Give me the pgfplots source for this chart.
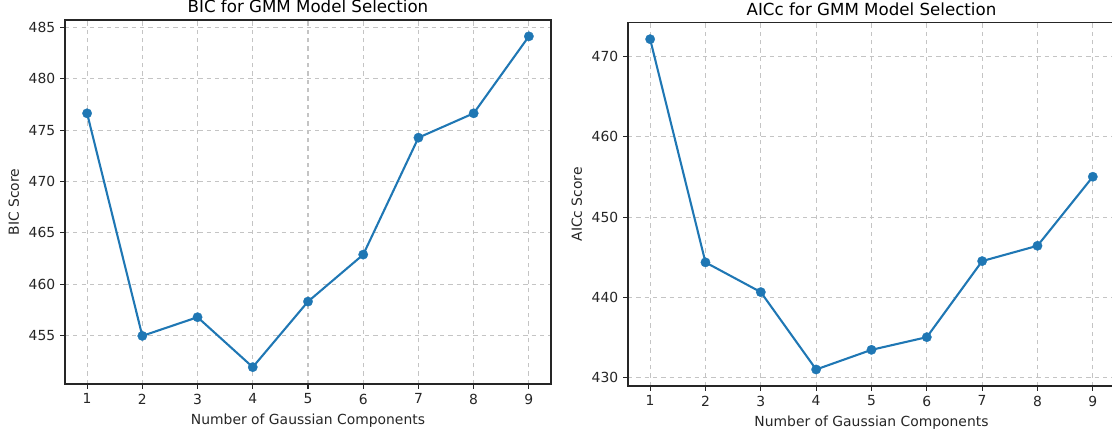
\documentclass[border=0pt]{standalone}
\usepackage{fontspec}
\setmainfont{DejaVu Sans}
\usepackage{pgfplots}
\pgfplotsset{compat=1.18}

\definecolor{mplblue}{HTML}{1F77B4}
\definecolor{gridgray}{HTML}{C4C4C4}
\definecolor{spine}{HTML}{262626}

\pgfplotsset{
  gmmaxis/.style={
    scale only axis,
    xmin=0.6, xmax=9.4,
    xtick={1,2,3,4,5,6,7,8,9},
    tick align=outside,
    major tick length=3.5pt,
    tick style={spine, line width=0.8pt},
    axis line style={spine, line width=0.8pt},
    xtick pos=bottom, ytick pos=left,
    grid=major,
    major grid style={gridgray, dashed, line width=0.8pt},
    /pgf/number format/assume math mode=true,
    /pgf/number format/1000 sep={},
    tick label style={font=\fontsize{10}{12}\selectfont, text=spine},
    label style={font=\fontsize{10}{12}\selectfont, text=spine},
    title style={font=\fontsize{12}{14}\selectfont, text=black, at={(0.5,1)}, anchor=base, yshift=-0.5pt},
    xlabel={Number of Gaussian Components},
  },
  gmmline/.style={mplblue, line width=1.5pt, mark=*, mark size=3.4pt,
    mark options={solid, fill=mplblue, draw=mplblue, line width=0.2pt}},
}

\begin{document}
\begin{tikzpicture}
% left panel: BIC
\begin{axis}[gmmaxis,
  at={(46.8pt,36pt)}, anchor=south west,
  width=349.9pt, height=262.08pt,
  ymin=450.29, ymax=485.71,
  ytick={455,460,465,470,475,480,485},
  ylabel={BIC Score},
  title={BIC for GMM Model Selection},
]
\addplot[gmmline] coordinates {
  (1,476.63) (2,454.97) (3,456.79) (4,451.93) (5,458.31)
  (6,462.88) (7,474.26) (8,476.63) (9,484.12)
};
\end{axis}
% right panel: AICc
\begin{axis}[gmmaxis,
  at={(452.16pt,34.56pt)}, anchor=south west,
  width=350.6pt, height=261.6pt,
  ymin=428.93, ymax=474.25,
  ytick={430,440,450,460,470},
  ylabel={AICc Score},
  title={AICc for GMM Model Selection},
]
\addplot[gmmline] coordinates {
  (1,472.19) (2,444.35) (3,440.64) (4,430.99) (5,433.44)
  (6,435.02) (7,444.51) (8,446.42) (9,455.03)
};
\end{axis}
\pgfresetboundingbox
\path[use as bounding box] (0pt,0pt) rectangle (800.64pt,312.48pt);
\end{tikzpicture}
\end{document}
